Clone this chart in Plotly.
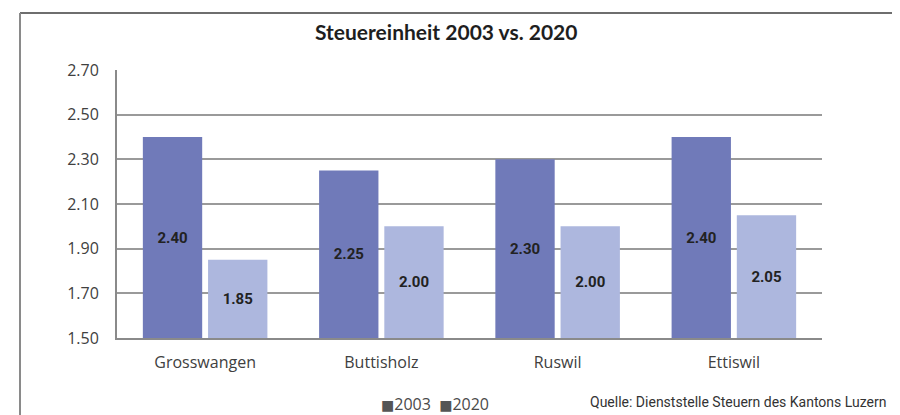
import plotly.graph_objects as go

categories = ["Grosswangen", "Buttisholz", "Ruswil", "Ettiswil"]
values_2003 = [2.40, 2.25, 2.30, 2.40]
values_2020 = [1.85, 2.00, 2.00, 2.05]
series_names = ["2003", "2020"]
y_ticks = [1.50, 1.70, 1.90, 2.10, 2.30, 2.50, 2.70]
axis_base = 1.50
title_text = "Steuereinheit 2003 vs. 2020"
source_text = "Quelle: Dienststelle Steuern des Kantons Luzern"

# page has an 8px body margin; compensate
OFF = 8
W, H = 900 - OFF, 415 - OFF
L, T = 117 - OFF, 70 - OFF
R = W - (822 - OFF)
B = H - (338 - OFF)
pw, ph = W - L - R, H - T - B

def px(x):
    return (x - OFF - L) / pw

def py(y):
    return (H - B - (y - OFF)) / ph

label_font = dict(family="Roboto, sans-serif", size=15, color="#222222")

fig = go.Figure()
for name, vals, col in [(series_names[0], values_2003, "#707ab9"),
                        (series_names[1], values_2020, "#adb7de")]:
    fig.add_trace(go.Bar(
        x=categories, y=[v - axis_base for v in vals], base=axis_base, name=name,
        marker=dict(color=col, line=dict(width=0)),
        text=[f"<b>{v:.2f}</b>" for v in vals], textposition="inside",
        insidetextanchor="middle", textangle=0, textfont=label_font,
    ))

fig.update_layout(
    width=W, height=H, margin=dict(l=L, r=R, t=T, b=B),
    paper_bgcolor="white", plot_bgcolor="white",
    barmode="group", bargap=0.26, bargroupgap=0.09,
    showlegend=False,
    font=dict(family="Open Sans, sans-serif", color="#404040", size=16),
)
fig.update_yaxes(range=[1.5, 2.7], tickvals=y_ticks, ticktext=[f"{v:.2f}" for v in y_ticks],
                 showgrid=True, gridcolor="#9a9a9a", gridwidth=2,
                 showline=True, linecolor="#8a8a8a", linewidth=2,
                 ticks="", ticklabelstandoff=13, zeroline=False,
                 tickfont=dict(family="Open Sans, sans-serif", size=16, color="#404040"))
fig.update_xaxes(showline=True, linecolor="#8a8a8a", linewidth=2, ticks="",
                 ticklabelstandoff=9,
                 tickfont=dict(family="Open Sans, sans-serif", size=16, color="#404040"))

# Frame lines
fig.add_shape(type="line", xref="paper", yref="paper", x0=px(20), x1=px(901), y0=py(13), y1=py(13),
              line=dict(color="#6e6e6e", width=2))
fig.add_shape(type="line", xref="paper", yref="paper", x0=px(20), x1=px(20), y0=py(13), y1=py(416),
              line=dict(color="#8a8a8a", width=2))

fig.add_annotation(text=f"<b>{title_text}</b>", xref="paper", yref="paper",
                   x=px(446), y=py(32), xanchor="center", yanchor="middle", showarrow=False,
                   font=dict(family="Lato, sans-serif", size=21, color="#1e1e1e"))

fig.add_annotation(
    text=(f"<span style='color:#555555;font-family:DejaVu Sans;font-size:14px'>■</span>{series_names[0]}  "
          f"<span style='color:#555555;font-family:DejaVu Sans;font-size:14px'>■</span>{series_names[1]}"),
    xref="paper", yref="paper", x=px(435), y=py(404), xanchor="center", yanchor="middle",
    showarrow=False, font=dict(family="Open Sans, sans-serif", size=16, color="#4a4a4a"))

fig.add_annotation(text=source_text, xref="paper", yref="paper", x=px(888), y=py(402),
                   xanchor="right", yanchor="middle", showarrow=False,
                   font=dict(family="Roboto, sans-serif", size=14, color="#333333"))

fig.write_html("out.html")
